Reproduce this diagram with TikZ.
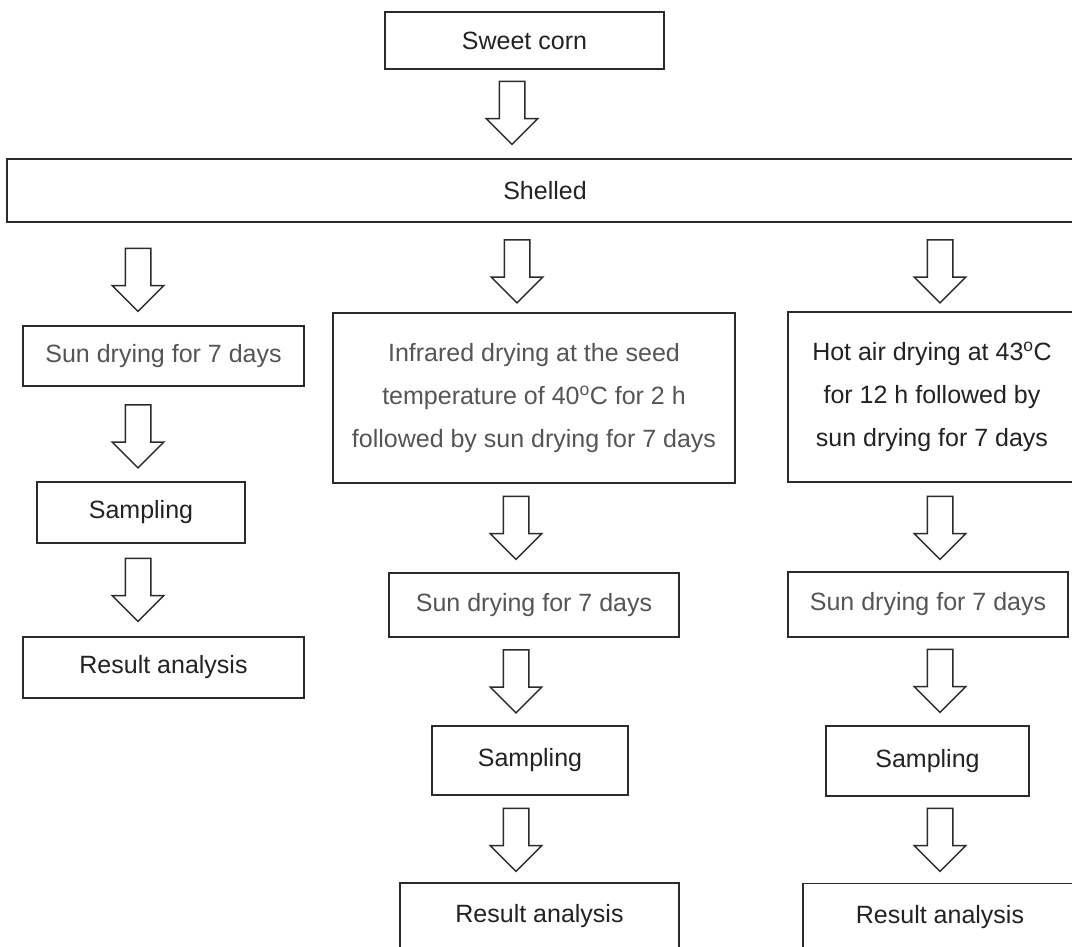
\documentclass[tikz,border=0pt]{standalone}
\usepackage{fontspec}
\setmainfont{Liberation Sans}
\usetikzlibrary{shapes.arrows}
\definecolor{linegray}{HTML}{2B2B2B}
\definecolor{textgray}{HTML}{555555}
\definecolor{textdark}{HTML}{222222}
\tikzset{
  stepbox/.style={draw=linegray, line width=1.8pt, inner sep=0pt, text=textdark,
    align=center, font=\fontsize{25}{43}\selectfont},
  blockarrow/.style={draw=linegray, line width=1.5pt, shape=single arrow,
    shape border rotate=270, single arrow tip angle=90, single arrow head extend=13pt,
    minimum height=63pt, minimum width=50pt, inner sep=12pt},
}
\begin{document}
\begin{tikzpicture}[x=1pt, y=-1pt]
\useasboundingbox (0,0) rectangle (1072,947);
% top
\node[stepbox, minimum width=279pt, minimum height=57pt] (corn) at (524.5,40.5) {Sweet corn};
\node[blockarrow] (a0) at (512,106.5) {};
\node[stepbox, minimum width=1076pt, minimum height=63pt] (shelled) at (545,190.5) {Shelled};
% left branch
\node[blockarrow] (aL1) at (138,273.5) {};
\node[stepbox, text=textgray, minimum width=281pt, minimum height=60pt] (sunL) at (163.5,356) {Sun drying for 7 days};
\node[blockarrow] (aL2) at (138,430) {};
\node[stepbox, minimum width=208pt, minimum height=61pt] (sampL) at (141,512.5) {Sampling};
\node[blockarrow] (aL3) at (138,583.5) {};
\node[stepbox, minimum width=281pt, minimum height=61pt] (resL) at (163.5,667.5) {Result analysis};
% middle branch
\node[blockarrow] (aM1) at (517,265) {};
\node[stepbox, text=textgray, minimum width=402pt, minimum height=170pt] (infra) at (534,398)
  {Infrared drying at the seed\\temperature of 40\textsuperscript{o}C for 2 h\\followed by sun drying for 7 days};
\node[blockarrow] (aM2) at (516,521.5) {};
\node[stepbox, text=textgray, minimum width=290pt, minimum height=64pt] (sunM) at (534,605) {Sun drying for 7 days};
\node[blockarrow] (aM3) at (516,675) {};
\node[stepbox, minimum width=196pt, minimum height=69pt] (sampM) at (530,760.5) {Sampling};
\node[blockarrow] (aM4) at (516,833.5) {};
\node[stepbox, minimum width=279pt, minimum height=67pt] (resM) at (539.5,916.5) {Result analysis};
% right branch
\node[blockarrow] (aR1) at (940,265) {};
\node[stepbox, minimum width=288pt, minimum height=170pt] (hot) at (932,397)
  {Hot air drying at 43\textsuperscript{o}C\\for 12 h followed by\\sun drying for 7 days};
\node[blockarrow] (aR2) at (940,521.5) {};
\node[stepbox, text=textgray, minimum width=280pt, minimum height=65pt] (sunR) at (928,604.5) {Sun drying for 7 days};
\node[blockarrow] (aR3) at (940,674.5) {};
\node[stepbox, minimum width=203pt, minimum height=70pt] (sampR) at (927.5,761) {Sampling};
\node[blockarrow] (aR4) at (940,833.5) {};
\node[stepbox, minimum width=274pt, minimum height=67pt] (resR) at (940,917) {Result analysis};
\end{tikzpicture}
\end{document}
